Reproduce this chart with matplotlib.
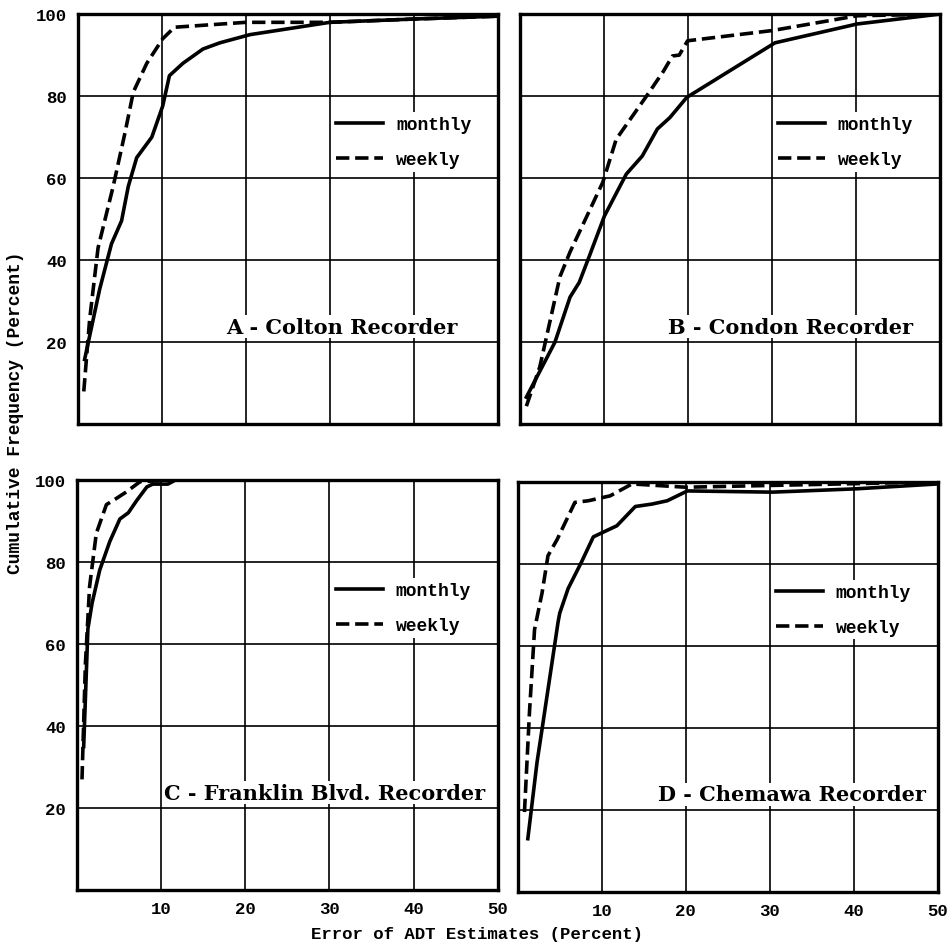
import matplotlib
matplotlib.use("Agg")
import matplotlib.pyplot as plt

# Panel A - Colton
a_month_x = [0.8, 2.6, 4.0, 5.2, 6.0, 7.0, 8.8, 10.1, 10.9, 12.5, 14.9, 16.9, 20.5, 30.0, 40.0, 50.0]
a_month_y = [15.8, 33, 44, 49.6, 58, 65, 70, 77.6, 85, 88, 91.5, 93, 95, 98, 98.8, 99.5]
a_week_x = [0.7, 1.4, 2.4, 4.2, 5.6, 6.6, 8.2, 10.1, 11.5, 20.0, 30.0, 40.0, 50.0]
a_week_y = [8, 25.6, 43, 58, 71, 81, 88, 94, 96.8, 98, 98, 98.8, 99.5]

# Panel B - Condon
b_month_x = [0.8, 4.2, 6.0, 7.1, 8.3, 10.1, 12.7, 14.6, 16.4, 17.9, 19.9, 30.4, 40.2, 50.0]
b_month_y = [6.6, 20, 31, 34.6, 41, 50.8, 61, 65.4, 72, 74.8, 79.7, 93, 97.6, 100]
b_week_x = [0.8, 2.4, 4.8, 6.0, 9.9, 11.5, 15.1, 17.1, 18.2, 19.0, 20.0, 30.1, 40.2, 50.0]
b_week_y = [4.4, 14, 36, 42, 59, 69.5, 80, 86, 89.8, 90, 93.5, 96, 99.6, 100]

# Panel C - Franklin Blvd.
c_month_x = [0.8, 1.3, 1.8, 2.7, 3.9, 5.1, 6.1, 7.1, 8.3, 9.0, 10.8, 11.7]
c_month_y = [35, 63.7, 70, 78, 85, 90.5, 92, 95, 98.3, 99, 99, 100]
c_week_x = [0.6, 1.0, 1.5, 2.3, 3.5, 4.3, 5.8, 7.5, 11.6]
c_week_y = [27, 55, 74, 87, 94, 95, 97, 99.6, 100]

# Panel D - Chemawa
d_month_x = [1.2, 2.3, 2.9, 4.8, 5.0, 6.0, 7.6, 9.0, 11.8, 14.0, 16.0, 17.8, 20.2, 30.3, 40.2, 50.0]
d_month_y = [13, 31.7, 39.8, 65.8, 68, 74, 80.5, 86.6, 89.3, 94, 94.6, 95.4, 97.8, 97.5, 98.3, 99.5]
d_week_x = [0.8, 1.4, 2.0, 2.9, 3.6, 4.7, 6.8, 8.4, 11.0, 13.6, 20.0, 50.0]
d_week_y = [19.5, 44, 64, 73, 82, 86, 95, 95.4, 96.6, 99.5, 98.7, 100]

titles = ["A - Colton Recorder", "B - Condon Recorder",
          "C - Franklin Blvd. Recorder", "D - Chemawa Recorder"]
x_ticks = [10, 20, 30, 40, 50]
y_ticks = [20, 40, 60, 80, 100]

mono = "Liberation Mono"
serif = "DejaVu Serif"

fig = plt.figure(figsize=(9.5, 9.45), dpi=100)

boxes = [
    [0.082, 0.550, 0.442, 0.434],
    [0.547, 0.550, 0.442, 0.434],
    [0.081, 0.057, 0.443, 0.434],
    [0.545, 0.055, 0.442, 0.434],
]
series = [
    (a_month_x, a_month_y, a_week_x, a_week_y),
    (b_month_x, b_month_y, b_week_x, b_week_y),
    (c_month_x, c_month_y, c_week_x, c_week_y),
    (d_month_x, d_month_y, d_week_x, d_week_y),
]
title_x = [0.905, 0.936, 0.97, 0.971]

for i, box in enumerate(boxes):
    ax = fig.add_axes(box)
    mx, my, wx, wy = series[i]
    ax.plot(mx, my, color="black", lw=2.6, solid_joinstyle="round", label="monthly")
    ax.plot(wx, wy, color="black", lw=2.6, ls="--", label="weekly")
    ax.set_xlim(0, 50)
    ax.set_ylim(0, 100)
    ax.set_xticks(x_ticks)
    ax.set_yticks(y_ticks)
    ax.grid(True, color="black", lw=1.2)
    ax.set_axisbelow(True)
    for sp in ax.spines.values():
        sp.set_linewidth(2.4)
    ax.tick_params(length=0, pad=8)
    if i < 2:
        ax.set_xticklabels([])
    else:
        ax.set_xticklabels([str(t) for t in x_ticks], family=mono,
                           weight="bold", fontsize=12.5)
    if i % 2 == 1:
        ax.set_yticklabels([])
    else:
        ax.set_yticklabels([str(t) for t in y_ticks], family=mono,
                           weight="bold", fontsize=12.5)
    ax.text(title_x[i], 0.238, titles[i], transform=ax.transAxes,
            ha="right", va="center", family=serif, weight="bold", fontsize=15,
            bbox=dict(facecolor="white", edgecolor="none", pad=1))
    leg = ax.legend(loc="center left", bbox_to_anchor=(0.607, 0.688),
                    frameon=True, facecolor="white", edgecolor="none",
                    framealpha=1, fancybox=False, borderpad=0.2, borderaxespad=0,
                    handlelength=2.6, handletextpad=0.7, labelspacing=1.0,
                    prop={"family": mono, "weight": "bold", "size": 13})

fig.text(0.502, 0.011, "Error of ADT Estimates (Percent)", ha="center",
         va="center", family=mono, weight="bold", fontsize=12.5)
fig.text(0.016, 0.563, "Cumulative Frequency (Percent)", ha="center",
         va="center", rotation=90, family=mono, weight="bold", fontsize=13)

fig.savefig("out.png", dpi=100, facecolor="white")
